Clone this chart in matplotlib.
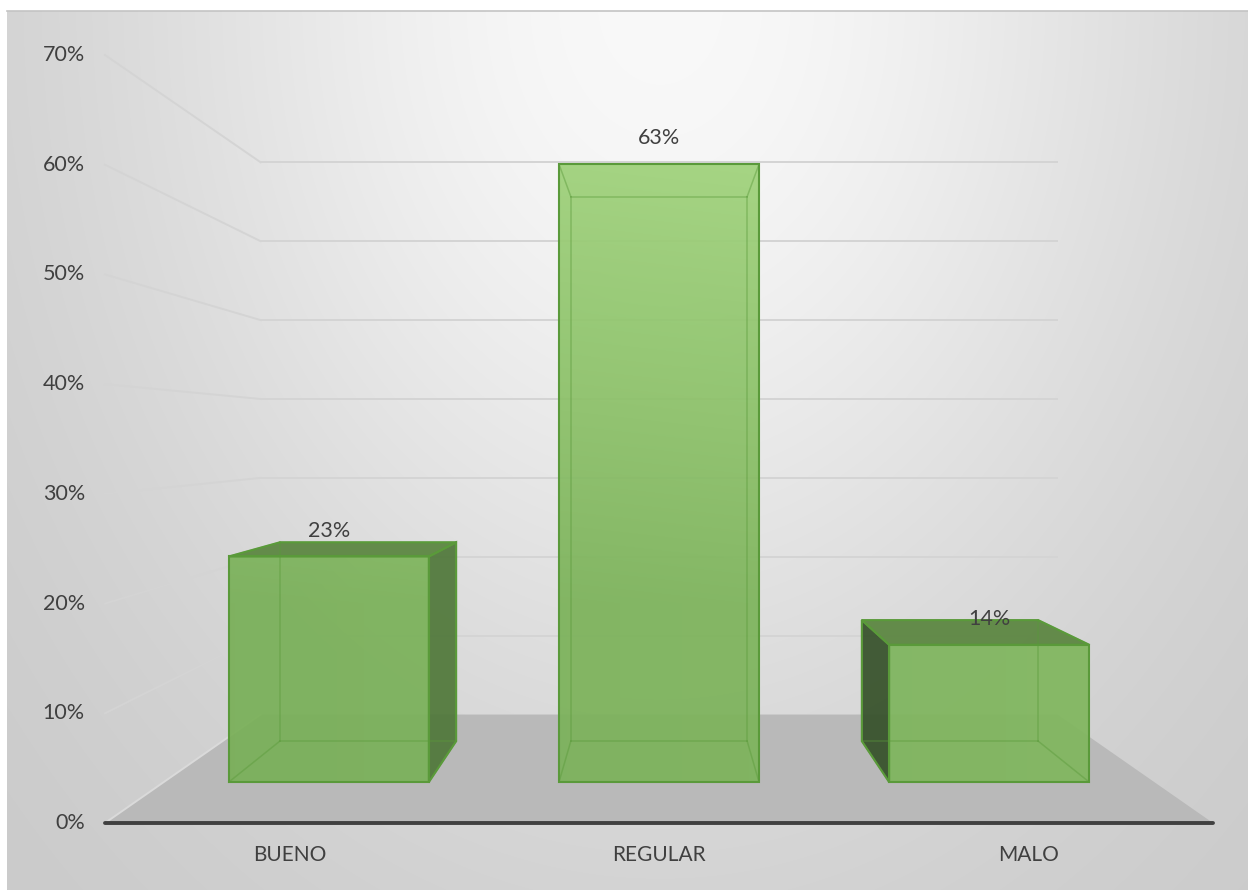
import numpy as np
import matplotlib
matplotlib.use("Agg")
import matplotlib.pyplot as plt
from matplotlib.patches import Polygon

# ---- data ----
categories = ["BUENO", "REGULAR", "MALO"]
values = [0.23, 0.63, 0.14]
value_labels = ["23%", "63%", "14%"]
tick_values = [0.0, 0.1, 0.2, 0.3, 0.4, 0.5, 0.6, 0.7]
tick_labels = ["0%", "10%", "20%", "30%", "40%", "50%", "60%", "70%"]

# ---- figure / style ----
W, H, DPI = 1248, 890, 100
FONT = ["Lato", "DejaVu Sans"]
TEXT_COLOR = "#404040"
plt.rcParams["font.family"] = FONT

fig = plt.figure(figsize=(W / DPI, H / DPI), dpi=DPI)
fig.patch.set_facecolor("white")

# chart-area background: soft radial gradient, lighter toward the top centre
bg = fig.add_axes([0, 0, 1, 1], zorder=0)
bg.set_xlim(0, W)
bg.set_ylim(H, 0)
bg.axis("off")
px0, py0 = 7, 11
gy, gx = np.mgrid[py0:H, px0:W].astype(float)
dist = np.sqrt(((gx - 660) / 650.0) ** 2 + (gy / 870.0) ** 2)
shade = np.clip(0.975 - 0.19 * (1 - np.exp(-(dist / 0.85) ** 2)), 0, 1)
bg.imshow(np.dstack([shade] * 3), extent=(px0, W, H, py0), aspect="auto",
          interpolation="bilinear", zorder=0)
bg.plot([px0, W], [py0, py0], color="#c4c4c4", lw=1.2, zorder=1)

# ---- plotting axes: front plane of the 3-D box ----
left, right, top, bottom = 105, 1213, 55, 823
ax = fig.add_axes([left / W, (H - bottom) / H, (right - left) / W, (bottom - top) / H],
                  zorder=1)
ax.set_xlim(0, len(categories))
ax.set_ylim(0, tick_values[-1])
ax.axis("off")
ax.patch.set_alpha(0)

# perspective: points recede toward a vanishing point as depth scale s drops
VP_X = len(categories) / 2.0
VP_Y = (bottom - 437) / (bottom - top) * tick_values[-1]
S_WALL = 0.719      # back wall
S_BAR_FRONT = 0.894
S_BAR_BACK = 0.788
HALF_W = 0.303      # half bar width in category units


def proj(x, y, s):
    return (VP_X + s * (x - VP_X), VP_Y + s * (y - VP_Y))


# floor
floor = Polygon([proj(0, 0, 1), proj(3, 0, 1), proj(3, 0, S_WALL), proj(0, 0, S_WALL)],
                closed=True, facecolor="#b9b9b9", edgecolor="none", zorder=1)
ax.add_patch(floor)

# gridlines on the back wall and the left wall
GRID = "#d4d4d4"
for v in tick_values:
    (a, b), (c, d) = proj(0, v, 1), proj(0, v, S_WALL)
    ax.plot([a, c], [b, d], color="#dadada" if v == 0 else GRID, lw=1.4, zorder=2,
            clip_on=False)
    if v > 0:
        (a2, b2), (c2, d2) = proj(0, v, S_WALL), proj(3, v, S_WALL)
        ax.plot([a2, c2], [b2, d2], color=GRID, lw=1.4, zorder=2, clip_on=False)

# front-face lighting field (lighter toward the top and to the right)
gxs = np.linspace(0, 3, 300)
gys = np.linspace(0, 0.7, 400)
GX, GY = np.meshgrid(gxs, gys)
T = np.clip((GY - 0.2) / 0.45, 0, 1) * 0.8 + (GX / 3.0) * 0.2
base = np.array([120, 175, 87]) / 255.0
light = np.array([168, 218, 130]) / 255.0
front_img = base[None, None, :] + T[..., None] * (light - base)[None, None, :]

EDGE = "#5a9a3a"
for i, v in enumerate(values):
    xc = i + 0.5
    x0, x1 = xc - HALF_W, xc + HALF_W
    F = [proj(x0, 0, S_BAR_FRONT), proj(x1, 0, S_BAR_FRONT),
         proj(x1, v, S_BAR_FRONT), proj(x0, v, S_BAR_FRONT)]
    B = [proj(x0, 0, S_BAR_BACK), proj(x1, 0, S_BAR_BACK),
         proj(x1, v, S_BAR_BACK), proj(x0, v, S_BAR_BACK)]

    faces = []
    if x1 < VP_X:   # right side faces the viewer
        faces.append(([F[1], B[1], B[2], F[2]], "#50783a"))
    if x0 > VP_X:   # left side faces the viewer
        faces.append(([F[0], B[0], B[3], F[3]], "#36512a"))
    if v < VP_Y:    # top visible from above
        faces.append(([F[3], F[2], B[2], B[3]], "#5a853f"))
    for pts, col in faces:
        ax.add_patch(Polygon(pts, closed=True, facecolor=col, edgecolor="none",
                             alpha=0.93, zorder=3))

    # front face with lighting gradient
    fpoly = Polygon(F, closed=True, facecolor="none", edgecolor="none", zorder=4)
    ax.add_patch(fpoly)
    im = ax.imshow(front_img, extent=(0, 3, 0, 0.7), origin="lower", aspect="auto",
                   alpha=0.93, zorder=4, interpolation="bilinear")
    im.set_clip_path(fpoly)

    # hidden edges, seen faintly through the translucent faces
    edges = [(F[k], F[(k + 1) % 4]) for k in range(4)] + \
            [(B[k], B[(k + 1) % 4]) for k in range(4)] + \
            [(F[k], B[k]) for k in range(4)]
    for p, q in edges:
        ax.plot([p[0], q[0]], [p[1], q[1]], color=EDGE, lw=1.1, alpha=0.45, zorder=5)
    # outlines of visible faces
    for pts, _ in faces + [(F, None)]:
        ax.add_patch(Polygon(pts, closed=True, facecolor="none", edgecolor=EDGE,
                             lw=1.5, zorder=6))

    # value label above the front face
    top_mid = proj(xc, v, S_BAR_FRONT)
    ax.annotate(value_labels[i], xy=top_mid, xytext=(0, 18.5), textcoords="offset points",
                ha="center", va="center", fontsize=15.5, color=TEXT_COLOR, zorder=7,
                annotation_clip=False)

    # category label under the front axis line
    ax.annotate(categories[i], xy=(xc, 0), xytext=(0, -23), textcoords="offset points",
                ha="center", va="center", fontsize=15, color=TEXT_COLOR,
                annotation_clip=False)

# front axis line
(a, b), (c, d) = proj(0, 0, 1), proj(3, 0, 1)
ax.plot([a, c], [b, d], color="#404040", lw=2.8, zorder=8, clip_on=False,
        solid_capstyle="round")

# value-axis tick labels
for v, lab in zip(tick_values, tick_labels):
    ax.annotate(lab, xy=(0, v), xytext=(-14.5, 0), textcoords="offset points",
                ha="right", va="center", fontsize=15.5, color=TEXT_COLOR,
                annotation_clip=False)

fig.savefig("out.png", dpi=DPI)
